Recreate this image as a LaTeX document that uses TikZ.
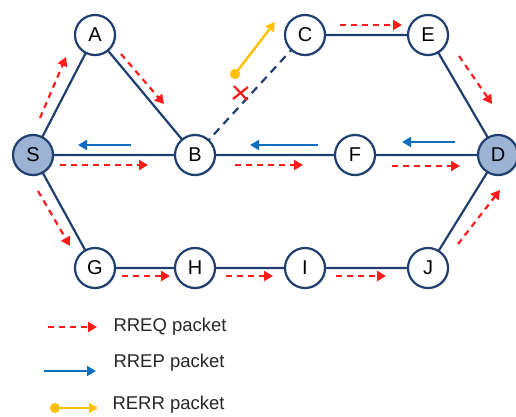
\documentclass[tikz,border=0pt]{standalone}
\usepackage{fontspec}
\setmainfont{Liberation Sans}
\usetikzlibrary{arrows.meta,shadows}
\definecolor{navy}{HTML}{1F3F6E}
\definecolor{nodefill}{HTML}{9DB3D3}
\definecolor{rreq}{HTML}{FF1A1A}
\definecolor{rrep}{HTML}{0E6FC0}
\definecolor{rerr}{HTML}{FFC000}
\tikzset{
  nd/.style={circle,draw=navy,line width=2.2pt,fill=white,minimum size=40pt,inner sep=0pt,font=\fontsize{20}{20}\selectfont,drop shadow={shadow xshift=1.5pt,shadow yshift=-1.5pt,opacity=0.2}},
  end/.style={nd,fill=nodefill},
  link/.style={draw=navy,line width=2.2pt},
  req/.style={draw=rreq,line width=2.2pt,dash pattern=on 6pt off 5pt,-{Triangle[width=10pt,length=9pt]}},
  rep/.style={draw=rrep,line width=2.4pt,-{Triangle[width=10pt,length=9pt]}},
  err/.style={draw=rerr,line width=2.4pt,{Circle[length=10pt]}-{Triangle[width=10pt,length=9pt]}},
  lbl/.style={anchor=west,font=\fontsize{18.5}{19}\selectfont,text=black!85},
  xmark/.style={draw=rreq,line width=2.2pt}
}
\begin{document}
\begin{tikzpicture}[x=1pt,y=-1pt]
\useasboundingbox (0,0) rectangle (516,417);
\coordinate (pS) at (33,155);
\coordinate (pA) at (95,35);
\coordinate (pB) at (195,155);
\coordinate (pC) at (305,35);
\coordinate (pE) at (428,35);
\coordinate (pF) at (355,155);
\coordinate (pD) at (498,155);
\coordinate (pG) at (95,268);
\coordinate (pH) at (195,268);
\coordinate (pI) at (305,268);
\coordinate (pJ) at (428,268);
\draw[link] (pS)--(pA) (pA)--(pB) (pS)--(pB) (pS)--(pG) (pC)--(pE) (pE)--(pD)
  (pB)--(pF) (pF)--(pD) (pD)--(pJ) (pG)--(pH) (pH)--(pI) (pI)--(pJ);
\draw[link,dash pattern=on 8pt off 6pt] (pB)--(pC);
% nodes
\node[end] (S) at (pS) {S};
\node[nd] (A) at (pA) {A};
\node[nd] (B) at (pB) {B};
\node[nd] (C) at (pC) {C};
\node[nd] (E) at (pE) {E};
\node[nd] (F) at (pF) {F};
\node[end] (D) at (pD) {D};
\node[nd] (G) at (pG) {G};
\node[nd] (H) at (pH) {H};
\node[nd] (I) at (pI) {I};
\node[nd] (J) at (pJ) {J};
% RREQ arrows
\coordinate (q1a) at (40,118); \coordinate (q1b) at (66,57);
\draw[req] (q1a)--(q1b);
\coordinate (q2a) at (121,54); \coordinate (q2b) at (164,104);
\draw[req] (q2a)--(q2b);
\coordinate (q3a) at (60,165); \coordinate (q3b) at (148,165);
\draw[req] (q3a)--(q3b);
\coordinate (q4a) at (38,191); \coordinate (q4b) at (70,246);
\draw[req] (q4a)--(q4b);
\coordinate (q5a) at (340,25); \coordinate (q5b) at (402,25);
\draw[req] (q5a)--(q5b);
\coordinate (q6a) at (459,56); \coordinate (q6b) at (492,104);
\draw[req] (q6a)--(q6b);
\coordinate (q7a) at (235,165); \coordinate (q7b) at (303,165);
\draw[req] (q7a)--(q7b);
\coordinate (q8a) at (392,166); \coordinate (q8b) at (460,166);
\draw[req] (q8a)--(q8b);
\coordinate (q9a) at (122,276); \coordinate (q9b) at (170,276);
\draw[req] (q9a)--(q9b);
\coordinate (q10a) at (226,276); \coordinate (q10b) at (273,276);
\draw[req] (q10a)--(q10b);
\coordinate (q11a) at (336,276); \coordinate (q11b) at (386,276);
\draw[req] (q11a)--(q11b);
\coordinate (q12a) at (458,244); \coordinate (q12b) at (500,190);
\draw[req] (q12a)--(q12b);
% RREP arrows
\coordinate (p1a) at (131,145); \coordinate (p1b) at (78,145);
\draw[rep] (p1a)--(p1b);
\coordinate (p2a) at (318,145); \coordinate (p2b) at (250,145);
\draw[rep] (p2a)--(p2b);
\coordinate (p3a) at (455,142); \coordinate (p3b) at (402,142);
\draw[rep] (p3a)--(p3b);
% RERR
\coordinate (e1a) at (232,78); \coordinate (e1b) at (275,22);
\draw[err] (e1a)--(e1b);
\coordinate (xa) at (234,86); \coordinate (xb) at (247,100);
\coordinate (xc) at (233,99); \coordinate (xd) at (248,87);
\draw[xmark] (xa)--(xb) (xc)--(xd);
% legend
\coordinate (l1a) at (48,327); \coordinate (l1b) at (97,327);
\draw[req] (l1a)--(l1b);
\node[lbl] (t1) at (110,327) {RREQ packet};
\coordinate (l2a) at (44,371); \coordinate (l2b) at (96,371);
\draw[rep] (l2a)--(l2b);
\node[lbl] (t2) at (110,363) {RREP packet};
\coordinate (l3a) at (50,408); \coordinate (l3b) at (98,408);
\draw[err] (l3a)--(l3b);
\node[lbl] (t3) at (109,405) {RERR packet};
\end{tikzpicture}
\end{document}
